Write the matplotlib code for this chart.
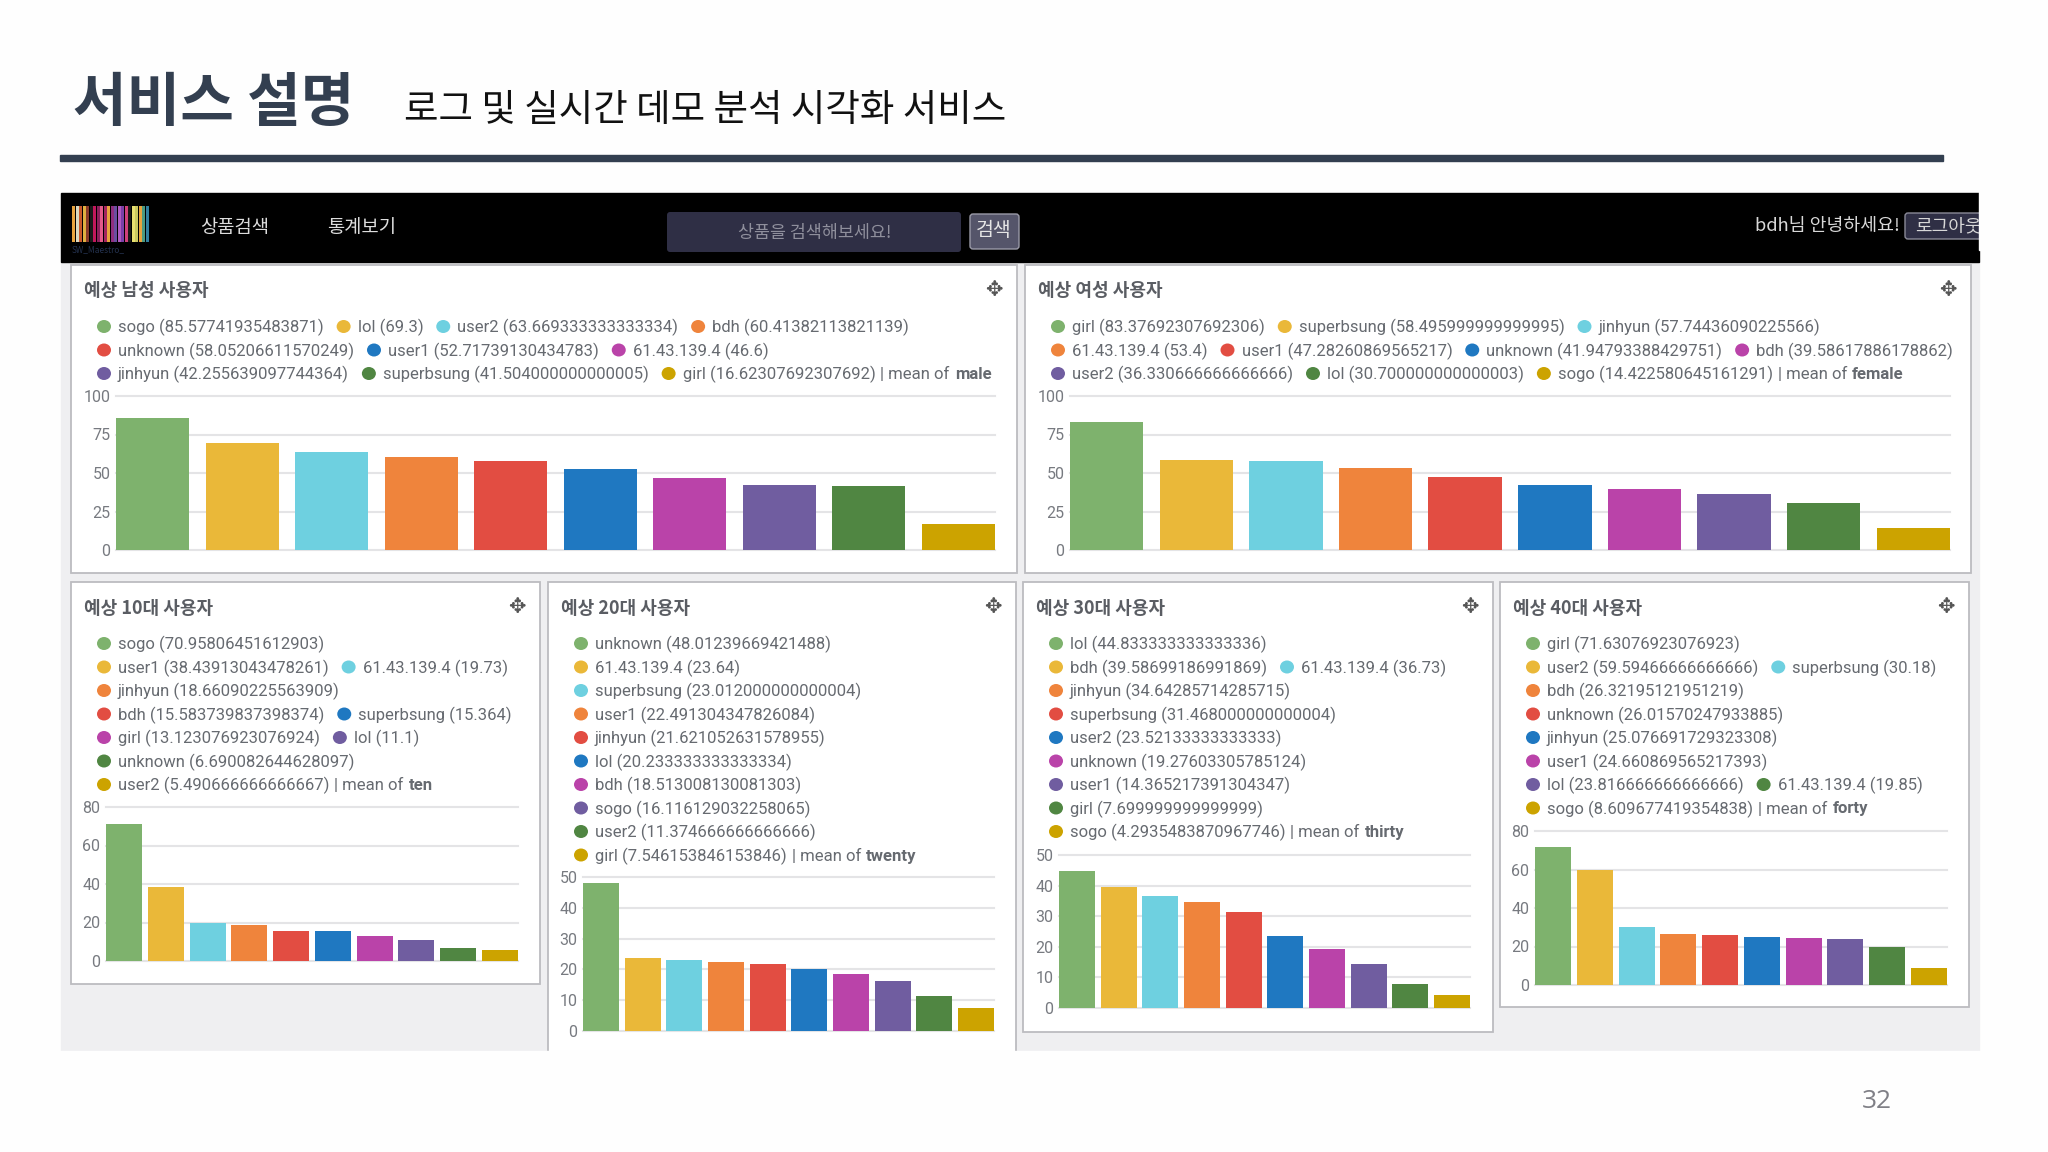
import matplotlib
matplotlib.use("Agg")
import matplotlib.pyplot as plt
from matplotlib.patches import Ellipse, Rectangle, FancyBboxPatch

plt.rcParams["font.family"] = ["Noto Sans CJK KR", "DejaVu Sans"]

W, H = 2048, 1152

COLORS = ["#7eb26d", "#eab839", "#6ed0e0", "#ef843c", "#e24d42",
          "#1f78c1", "#ba43a9", "#705da0", "#508642", "#cca300"]
TEXT = "#666a70"
SLATE = "#333f50"

male_names = ["sogo", "lol", "user2", "bdh", "unknown", "user1", "61.43.139.4", "jinhyun", "superbsung", "girl"]
male_values = [85.57741935483871, 69.3, 63.669333333333334, 60.41382113821139, 58.05206611570249,
               52.71739130434783, 46.6, 42.255639097744364, 41.504000000000005, 16.62307692307692]
male_rows = [4, 3, 3]

female_names = ["girl", "superbsung", "jinhyun", "61.43.139.4", "user1", "unknown", "bdh", "user2", "lol", "sogo"]
female_values = [83.37692307692306, 58.495999999999995, 57.74436090225566, 53.4, 47.28260869565217,
                 41.94793388429751, 39.58617886178862, 36.330666666666666, 30.700000000000003, 14.422580645161291]
female_rows = [3, 4, 3]

ten_names = ["sogo", "user1", "61.43.139.4", "jinhyun", "bdh", "superbsung", "girl", "lol", "unknown", "user2"]
ten_values = [70.95806451612903, 38.43913043478261, 19.73, 18.66090225563909, 15.583739837398374,
              15.364, 13.123076923076924, 11.1, 6.690082644628097, 5.490666666666667]
ten_rows = [1, 2, 1, 2, 2, 1, 1]

twenty_names = ["unknown", "61.43.139.4", "superbsung", "user1", "jinhyun", "lol", "bdh", "sogo", "user2", "girl"]
twenty_values = [48.01239669421488, 23.64, 23.012000000000004, 22.491304347826084, 21.621052631578955,
                 20.233333333333334, 18.513008130081303, 16.116129032258065, 11.374666666666666, 7.546153846153846]
twenty_rows = [1] * 10

thirty_names = ["lol", "bdh", "61.43.139.4", "jinhyun", "superbsung", "user2", "unknown", "user1", "girl", "sogo"]
thirty_values = [44.833333333333336, 39.58699186991869, 36.73, 34.64285714285715, 31.468000000000004,
                 23.52133333333333, 19.27603305785124, 14.365217391304347, 7.699999999999999, 4.2935483870967746]
thirty_rows = [1, 2, 1, 1, 1, 1, 1, 1, 1]

forty_names = ["girl", "user2", "superbsung", "bdh", "unknown", "jinhyun", "user1", "lol", "61.43.139.4", "sogo"]
forty_values = [71.63076923076923, 59.59466666666666, 30.18, 26.32195121951219, 26.01570247933885,
                25.076691729323308, 24.660869565217393, 23.816666666666666, 19.85, 8.609677419354838]
forty_rows = [1, 2, 1, 1, 1, 1, 2, 1]

# title, metric, names, values, rows, yticks, panel box, plot box (px), bar width
panels = [
    ("예상 남성 사용자", "male", male_names, male_values, male_rows, [0, 25, 50, 75, 100],
     (71, 265, 1017, 573), (116, 396, 995, 550), 0.82),
    ("예상 여성 사용자", "female", female_names, female_values, female_rows, [0, 25, 50, 75, 100],
     (1025, 265, 1971, 573), (1070, 396, 1950, 550), 0.82),
    ("예상 10대 사용자", "ten", ten_names, ten_values, ten_rows, [0, 20, 40, 60, 80],
     (71, 582, 540, 984), (106, 807, 518, 961), 0.86),
    ("예상 20대 사용자", "twenty", twenty_names, twenty_values, twenty_rows, [0, 10, 20, 30, 40, 50],
     (548, 582, 1016, 1070), (583, 877, 994, 1031), 0.86),
    ("예상 30대 사용자", "thirty", thirty_names, thirty_values, thirty_rows, [0, 10, 20, 30, 40, 50],
     (1023, 582, 1493, 1032), (1059, 855, 1470, 1008), 0.86),
    ("예상 40대 사용자", "forty", forty_names, forty_values, forty_rows, [0, 20, 40, 60, 80],
     (1500, 582, 1969, 1007), (1535, 831, 1947, 985), 0.86),
]

logo_stripes = ["#e8a33d", "#d9d9c0", "#c9572b", "#e0b040", "#8a3a2a", "#1a1a1a", "#c2185b", "#8e1f5c", "#e25a8a",
                "#a3245f", "#e8a33d", "#8f2f7f", "#6a4fa0", "#b05ac0", "#7a3fa8", "#d0407a", "#1a1a1a",
                "#e8e070", "#c8c860", "#e8a33d", "#4a9a80", "#2f7fa0"]

fig = plt.figure(figsize=(W / 100, H / 100), dpi=100, facecolor="#fefefe")
renderer = fig.canvas.get_renderer()

bg = fig.add_axes([0, 0, 1, 1], zorder=0)
bg.set_xlim(0, W)
bg.set_ylim(H, 0)
bg.axis("off")

# slide header
bg.text(73, 104, "서비스 설명", fontsize=42, weight="bold", color=SLATE, va="center", ha="left")
bg.text(404, 111, "로그 및 실시간 데모 분석 시각화 서비스", fontsize=27, color="#111111", va="center", ha="left")
bg.add_patch(Rectangle((60, 155), 1883, 6, color=SLATE))
bg.text(1877, 1102, "32", family="Open Sans", fontsize=19, color="#7f7f86", va="center", ha="center")

# screenshot background and nav bar
bg.add_patch(Rectangle((60.5, 262), 1918, 789, color="#efeff1", zorder=0.5))
bg.add_patch(Rectangle((60.5, 193), 1918, 69, color="#000000", zorder=1))
for i, c in enumerate(logo_stripes):
    bg.add_patch(Rectangle((72 + i * 3.5, 206), 3.4, 36, color=c, lw=0, zorder=2))
bg.text(72, 250, "SW_Maestro_", fontsize=6, color="#24324f", va="center", zorder=2)
bg.text(235, 227, "상품검색", fontsize=13.5, color="#dddddd", va="center", ha="center", zorder=2)
bg.text(362, 227, "통계보기", fontsize=13.5, color="#dddddd", va="center", ha="center", zorder=2)
bg.add_patch(FancyBboxPatch((669, 214), 290, 36, boxstyle="round,pad=2,rounding_size=3",
                            fc="#2f2f45", ec="none", zorder=2))
bg.text(815, 233, "상품을 검색해보세요!", fontsize=12.5, color="#8f8f9c", va="center", ha="center", zorder=3)
bg.add_patch(FancyBboxPatch((971, 215), 47, 33, boxstyle="round,pad=1,rounding_size=3",
                            fc="#55556a", ec="#9a9aa8", lw=1, zorder=2))
bg.text(994, 231, "검색", fontsize=14, color="#e6e6e6", va="center", ha="center", zorder=3)
bg.text(1755, 226, "bdh님 안녕하세요!", fontsize=13.2, color="#d8d8d8", va="center", ha="left", zorder=2)
bg.add_patch(FancyBboxPatch((1906, 214), 90, 24, boxstyle="round,pad=1,rounding_size=3",
                            fc="#2f2f45", ec="#8a8a98", lw=1, zorder=2))
bg.text(1915, 226, "로그아웃", fontsize=13, color="#d8d8d8", va="center", ha="left", zorder=3)
bg.add_patch(Rectangle((1978.5, 190), 70, 60, color="#fefefe", zorder=3.5))

for title, metric, names, values, rows, yticks, box, plot, bar_width in panels:
    left, top, right, bottom = box
    bg.add_patch(Rectangle((left, top), right - left, bottom - top, fc="#ffffff", ec="#bcbcc0", lw=1.3, zorder=2))
    bg.text(left + 13, top + 26, title, fontsize=13, weight="bold", color="#5a5d63", va="center", zorder=3)
    bg.text(right - 23, top + 25, "✥", family="DejaVu Sans", fontsize=15, color="#555555",
            va="center", ha="center", zorder=3)

    # legend rows, flowing left to right with measured text widths
    idx = 0
    for r, count in enumerate(rows):
        y = top + 62.5 + 23.5 * r
        x = left + 26
        for _ in range(count):
            bg.add_patch(Ellipse((x + 7, y - 1), 14, 13, color=COLORS[idx], lw=0, zorder=3))
            parts = [(f"{names[idx]} ({values[idx]})", "normal", 5)]
            if idx == len(names) - 1:
                parts += [("| mean of", "normal", 5), (metric, "bold", 0)]
            end = x + 21
            for string, weight, gap in parts:
                t = bg.text(end, y, string, family="Roboto", fontsize=12, color=TEXT, weight=weight,
                            va="center", ha="left", zorder=3)
                end = t.get_window_extent(renderer).x1 + gap
            x = end + 8
            idx += 1

    px0, py0, px1, py1 = plot
    ax = fig.add_axes([px0 / W, 1 - py1 / H, (px1 - px0) / W, (py1 - py0) / H], zorder=2)
    ax.patch.set_alpha(0)
    ax.bar(range(len(values)), values, width=bar_width, color=COLORS, zorder=3)
    ax.set_xlim(-bar_width / 2, len(values) - 1 + bar_width / 2)
    ax.set_ylim(yticks[0], yticks[-1])
    ax.set_yticks(yticks)
    ax.set_xticks([])
    ax.grid(axis="y", color="#e4e4e6", lw=1.5, zorder=0)
    ax.tick_params(axis="y", length=0, pad=4, labelsize=11.5, labelcolor="#777a80")
    for label in ax.get_yticklabels():
        label.set_family("Roboto")
    for spine in ax.spines.values():
        spine.set_visible(False)
    for gridline in ax.get_ygridlines():
        gridline.set_clip_on(False)

# page below the screenshot covers the open bottom of the 20s panel
bg.add_patch(Rectangle((0, 1051), W, 25, color="#fefefe", zorder=2.5))

fig.savefig("out.png", dpi=100)
